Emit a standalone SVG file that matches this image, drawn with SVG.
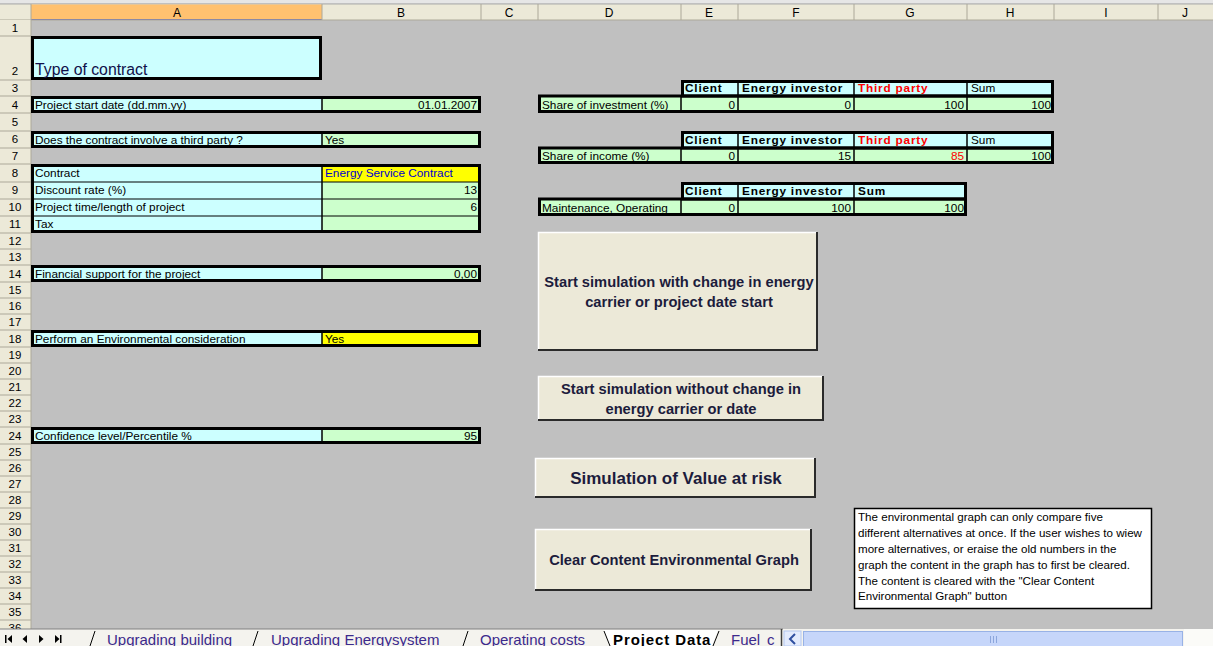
<svg xmlns="http://www.w3.org/2000/svg" width="1213" height="646" viewBox="0 0 1213 646">
  <style>
    .t { font-family: "Liberation Sans", Arial, sans-serif; font-size: 11.8px; fill: #000; }
    .b { font-weight: bold; letter-spacing: 0.8px; }
    .r { text-anchor: end; }
    .red { fill: #FF0000; }
    .blue { fill: #0000CC; }
    .hd { font-family: "Liberation Sans", Arial, sans-serif; font-size: 12px; fill: #000; text-anchor: middle; }
    .rn { font-family: "Liberation Sans", Arial, sans-serif; font-size: 11.5px; fill: #000; text-anchor: middle; }
    .cy { fill: #CCFFFF; }
    .gr { fill: #CCFFCC; }
    .ye { fill: #FFFF00; }
    .box { fill: none; stroke: #000; stroke-width: 3; }
    .thin { stroke: #000; stroke-width: 1.5; }
    .grid { stroke: #ACA899; stroke-width: 1; }
    .btn { fill: #ECE9D8; }
    .hi { fill: none; stroke: #FFFFFF; stroke-width: 1.5; }
    .sh { fill: none; stroke: #2A2A2A; stroke-width: 2; }
    .bt { font-family: "Liberation Sans", Arial, sans-serif; font-weight: bold; font-size: 14.7px; fill: #1C1C3C; text-anchor: middle; }
    .bt-lg { font-size: 17px; }
    .note { font-family: "Liberation Sans", Arial, sans-serif; font-size: 11.6px; fill: #000; }
    .tab { font-family: "Liberation Sans", Arial, sans-serif; font-size: 15px; fill: #3C2A8C; }
  </style>

  <!-- sheet background -->
  <rect x="0" y="0" width="1213" height="646" fill="#C0C0C0"/>
  <rect x="0" y="0" width="1213" height="4" fill="#E6E6E6"/>
  <line x1="0" y1="4" x2="1213" y2="4" stroke="#9A9A9A" stroke-width="1"/>

  <!-- column headers -->
  <g id="column-headers">
    <rect x="0" y="4.5" width="1213" height="15.5" fill="#ECE9D8"/>
    <rect x="31" y="4.5" width="291" height="15.5" fill="#FFC170"/>
    <line x1="31" y1="19.5" x2="322" y2="19.5" stroke="#6A6AB0" stroke-width="1"/>
    <line x1="0" y1="20" x2="1213" y2="20" class="grid"/>
    <g class="grid">
      <line x1="31" y1="4" x2="31" y2="20"/>
      <line x1="322" y1="4" x2="322" y2="20"/>
      <line x1="481" y1="4" x2="481" y2="20"/>
      <line x1="538" y1="4" x2="538" y2="20"/>
      <line x1="681" y1="4" x2="681" y2="20"/>
      <line x1="738" y1="4" x2="738" y2="20"/>
      <line x1="854" y1="4" x2="854" y2="20"/>
      <line x1="967" y1="4" x2="967" y2="20"/>
      <line x1="1054" y1="4" x2="1054" y2="20"/>
      <line x1="1158" y1="4" x2="1158" y2="20"/>
    </g>
    <text class="hd" x="177" y="17">A</text>
    <text class="hd" x="401" y="17">B</text>
    <text class="hd" x="509" y="17">C</text>
    <text class="hd" x="609" y="17">D</text>
    <text class="hd" x="709" y="17">E</text>
    <text class="hd" x="796" y="17">F</text>
    <text class="hd" x="910" y="17">G</text>
    <text class="hd" x="1010" y="17">H</text>
    <text class="hd" x="1106" y="17">I</text>
    <text class="hd" x="1185" y="17">J</text>
  </g>

  <!-- row headers -->
  <g id="row-headers">
    <rect x="0" y="20" width="31" height="609" fill="#ECE9D8"/>
    <line x1="31" y1="20" x2="31" y2="629" class="grid"/>
    <g class="grid">
      <line x1="0" y1="36" x2="31" y2="36"/><line x1="0" y1="80" x2="31" y2="80"/>
      <line x1="0" y1="96" x2="31" y2="96"/><line x1="0" y1="113" x2="31" y2="113"/>
      <line x1="0" y1="131" x2="31" y2="131"/><line x1="0" y1="148" x2="31" y2="148"/>
      <line x1="0" y1="164" x2="31" y2="164"/><line x1="0" y1="182" x2="31" y2="182"/>
      <line x1="0" y1="199" x2="31" y2="199"/><line x1="0" y1="216" x2="31" y2="216"/>
      <line x1="0" y1="233" x2="31" y2="233"/><line x1="0" y1="249" x2="31" y2="249"/>
      <line x1="0" y1="265" x2="31" y2="265"/><line x1="0" y1="282" x2="31" y2="282"/>
      <line x1="0" y1="298" x2="31" y2="298"/><line x1="0" y1="314" x2="31" y2="314"/>
      <line x1="0" y1="330" x2="31" y2="330"/><line x1="0" y1="347" x2="31" y2="347"/>
      <line x1="0" y1="363" x2="31" y2="363"/><line x1="0" y1="379" x2="31" y2="379"/>
      <line x1="0" y1="395" x2="31" y2="395"/><line x1="0" y1="411" x2="31" y2="411"/>
      <line x1="0" y1="427" x2="31" y2="427"/><line x1="0" y1="444" x2="31" y2="444"/>
      <line x1="0" y1="460" x2="31" y2="460"/><line x1="0" y1="476" x2="31" y2="476"/>
      <line x1="0" y1="492" x2="31" y2="492"/><line x1="0" y1="508" x2="31" y2="508"/>
      <line x1="0" y1="524" x2="31" y2="524"/><line x1="0" y1="540" x2="31" y2="540"/>
      <line x1="0" y1="556" x2="31" y2="556"/><line x1="0" y1="572" x2="31" y2="572"/>
      <line x1="0" y1="588" x2="31" y2="588"/><line x1="0" y1="604" x2="31" y2="604"/>
      <line x1="0" y1="620" x2="31" y2="620"/>
    </g>
    <text class="rn" x="15" y="32">1</text>
    <text class="rn" x="15" y="75">2</text>
    <text class="rn" x="15" y="92">3</text>
    <text class="rn" x="15" y="109">4</text>
    <text class="rn" x="15" y="126">5</text>
    <text class="rn" x="15" y="143">6</text>
    <text class="rn" x="15" y="160">7</text>
    <text class="rn" x="15" y="177">8</text>
    <text class="rn" x="15" y="194">9</text>
    <text class="rn" x="15" y="211">10</text>
    <text class="rn" x="15" y="228">11</text>
    <text class="rn" x="15" y="245">12</text>
    <text class="rn" x="15" y="261">13</text>
    <text class="rn" x="15" y="278">14</text>
    <text class="rn" x="15" y="294">15</text>
    <text class="rn" x="15" y="310">16</text>
    <text class="rn" x="15" y="326">17</text>
    <text class="rn" x="15" y="343">18</text>
    <text class="rn" x="15" y="359">19</text>
    <text class="rn" x="15" y="375">20</text>
    <text class="rn" x="15" y="391">21</text>
    <text class="rn" x="15" y="407">22</text>
    <text class="rn" x="15" y="423">23</text>
    <text class="rn" x="15" y="440">24</text>
    <text class="rn" x="15" y="456">25</text>
    <text class="rn" x="15" y="472">26</text>
    <text class="rn" x="15" y="488">27</text>
    <text class="rn" x="15" y="504">28</text>
    <text class="rn" x="15" y="520">29</text>
    <text class="rn" x="15" y="536">30</text>
    <text class="rn" x="15" y="552">31</text>
    <text class="rn" x="15" y="568">32</text>
    <text class="rn" x="15" y="584">33</text>
    <text class="rn" x="15" y="600">34</text>
    <text class="rn" x="15" y="616">35</text>
    <text class="rn" x="15" y="632">36</text>
  </g>

  <!-- title cell -->
  <g id="type-of-contract">
    <rect x="31" y="36" width="291" height="44" class="cy"/>
    <rect x="32.5" y="37.5" width="288" height="41" class="box"/>
    <text x="35" y="75" font-family="Liberation Sans, Arial, sans-serif" font-size="15.8" fill="#10104A">Type of contract</text>
  </g>

  <!-- input rows, columns A/B -->
  <g id="start-date">
    <rect x="31" y="96" width="291" height="17" class="cy"/>
    <rect x="322" y="96" width="159" height="17" class="gr"/>
    <line x1="322" y1="96" x2="322" y2="113" class="thin"/>
    <rect x="32.5" y="97.5" width="447" height="14" class="box"/>
    <text class="t" x="35" y="109">Project start date (dd.mm.yy)</text>
    <text class="t r" x="477" y="109">01.01.2007</text>
  </g>

  <g id="third-party">
    <rect x="31" y="131" width="291" height="17" class="cy"/>
    <rect x="322" y="131" width="159" height="17" class="gr"/>
    <line x1="322" y1="131" x2="322" y2="148" class="thin"/>
    <rect x="32.5" y="132.5" width="447" height="14" class="box"/>
    <text class="t" x="35" y="144">Does the contract involve a third party ?</text>
    <text class="t" x="325" y="144">Yes</text>
  </g>

  <g id="contract-block">
    <rect x="31" y="164" width="291" height="69" class="cy"/>
    <rect x="322" y="164" width="159" height="18" class="ye"/>
    <rect x="322" y="182" width="159" height="51" class="gr"/>
    <line x1="322" y1="164" x2="322" y2="233" class="thin"/>
    <line x1="31" y1="182" x2="481" y2="182" stroke="#000" stroke-width="1"/>
    <line x1="31" y1="199" x2="481" y2="199" stroke="#000" stroke-width="1"/>
    <line x1="31" y1="216" x2="481" y2="216" stroke="#000" stroke-width="1"/>
    <rect x="32.5" y="165.5" width="447" height="66" class="box"/>
    <text class="t" x="35" y="177">Contract</text>
    <text class="t blue" x="325" y="177">Energy Service Contract</text>
    <text class="t" x="35" y="194">Discount rate (%)</text>
    <text class="t r" x="477" y="194">13</text>
    <text class="t" x="35" y="211">Project time/length of project</text>
    <text class="t r" x="477" y="211">6</text>
    <text class="t" x="35" y="228">Tax</text>
  </g>

  <g id="financial-support">
    <rect x="31" y="265" width="291" height="17" class="cy"/>
    <rect x="322" y="265" width="159" height="17" class="gr"/>
    <line x1="322" y1="265" x2="322" y2="282" class="thin"/>
    <rect x="32.5" y="266.5" width="447" height="14" class="box"/>
    <text class="t" x="35" y="278">Financial support for the project</text>
    <text class="t r" x="477" y="278">0,00</text>
  </g>

  <g id="environmental">
    <rect x="31" y="330" width="291" height="17" class="cy"/>
    <rect x="322" y="330" width="159" height="17" class="ye"/>
    <line x1="322" y1="330" x2="322" y2="347" class="thin"/>
    <rect x="32.5" y="331.5" width="447" height="14" class="box"/>
    <text class="t" x="35" y="343">Perform an Environmental consideration</text>
    <text class="t" x="325" y="343">Yes</text>
  </g>

  <g id="confidence">
    <rect x="31" y="427" width="291" height="17" class="cy"/>
    <rect x="322" y="427" width="159" height="17" class="gr"/>
    <line x1="322" y1="427" x2="322" y2="444" class="thin"/>
    <rect x="32.5" y="428.5" width="447" height="14" class="box"/>
    <text class="t" x="35" y="440">Confidence level/Percentile %</text>
    <text class="t r" x="477" y="440">95</text>
  </g>

  <!-- share of investment -->
  <g id="share-investment">
    <rect x="681" y="80" width="373" height="16" class="cy"/>
    <rect x="538" y="96" width="516" height="17" class="gr"/>
    <g class="thin">
      <line x1="738" y1="80" x2="738" y2="113"/>
      <line x1="854" y1="80" x2="854" y2="113"/>
      <line x1="967" y1="80" x2="967" y2="113"/>
      <line x1="681" y1="96" x2="681" y2="113"/>
    </g>
    <rect x="682.5" y="81.5" width="370" height="14.5" class="box"/>
    <rect x="539.5" y="96" width="513" height="15.5" class="box"/>
    <text class="t b" x="685" y="92">Client</text>
    <text class="t b" x="742" y="92">Energy investor</text>
    <text class="t b red" x="858" y="92">Third party</text>
    <text class="t" x="971" y="92">Sum</text>
    <text class="t" x="542" y="109">Share of investment (%)</text>
    <text class="t r" x="735" y="109">0</text>
    <text class="t r" x="851" y="109">0</text>
    <text class="t r" x="964" y="109">100</text>
    <text class="t r" x="1051" y="109">100</text>
  </g>

  <!-- share of income -->
  <g id="share-income">
    <rect x="681" y="131" width="373" height="17" class="cy"/>
    <rect x="538" y="148" width="516" height="16" class="gr"/>
    <g class="thin">
      <line x1="738" y1="131" x2="738" y2="164"/>
      <line x1="854" y1="131" x2="854" y2="164"/>
      <line x1="967" y1="131" x2="967" y2="164"/>
      <line x1="681" y1="148" x2="681" y2="164"/>
    </g>
    <rect x="682.5" y="132.5" width="370" height="15.5" class="box"/>
    <rect x="539.5" y="148" width="513" height="14.5" class="box"/>
    <text class="t b" x="685" y="144">Client</text>
    <text class="t b" x="742" y="144">Energy investor</text>
    <text class="t b red" x="858" y="144">Third party</text>
    <text class="t" x="971" y="144">Sum</text>
    <text class="t" x="542" y="160">Share of income (%)</text>
    <text class="t r" x="735" y="160">0</text>
    <text class="t r" x="851" y="160">15</text>
    <text class="t r red" x="964" y="160">85</text>
    <text class="t r" x="1051" y="160">100</text>
  </g>

  <!-- maintenance / operating -->
  <g id="maintenance">
    <rect x="681" y="182" width="286" height="17" class="cy"/>
    <rect x="538" y="199" width="429" height="17" class="gr"/>
    <g class="thin">
      <line x1="738" y1="182" x2="738" y2="216"/>
      <line x1="854" y1="182" x2="854" y2="216"/>
      <line x1="681" y1="199" x2="681" y2="216"/>
    </g>
    <rect x="682.5" y="183.5" width="283" height="15.5" class="box"/>
    <rect x="539.5" y="199" width="426" height="15.5" class="box"/>
    <text class="t b" x="685" y="195">Client</text>
    <text class="t b" x="742" y="195">Energy investor</text>
    <text class="t b" x="858" y="195">Sum</text>
    <text class="t" x="542" y="212">Maintenance, Operating</text>
    <text class="t r" x="735" y="212">0</text>
    <text class="t r" x="851" y="212">100</text>
    <text class="t r" x="964" y="212">100</text>
  </g>

  <!-- macro buttons -->
  <g id="btn-sim-change">
    <rect x="538" y="232" width="280" height="119" class="btn"/>
    <polyline points="538.5,350 538.5,232.5 817,232.5" class="hi"/>
    <polyline points="538,350 817,350 817,232" class="sh"/>
    <text class="bt" x="679" y="287">Start simulation with change in energy</text>
    <text class="bt" x="679" y="307">carrier or project date start</text>
  </g>

  <g id="btn-sim-nochange">
    <rect x="538" y="376" width="286" height="45" class="btn"/>
    <polyline points="538.5,420 538.5,376.5 823,376.5" class="hi"/>
    <polyline points="538,420 823,420 823,376" class="sh"/>
    <text class="bt" x="681" y="394">Start simulation without change in</text>
    <text class="bt" x="681" y="414">energy carrier or date</text>
  </g>

  <g id="btn-var">
    <rect x="535" y="458" width="281" height="40" class="btn"/>
    <polyline points="535.5,497 535.5,458.5 815,458.5" class="hi"/>
    <polyline points="535,497 815,497 815,458" class="sh"/>
    <text class="bt bt-lg" x="676" y="484">Simulation of Value at risk</text>
  </g>

  <g id="btn-clear">
    <rect x="535" y="529" width="277" height="62" class="btn"/>
    <polyline points="535.5,590 535.5,529.5 811,529.5" class="hi"/>
    <polyline points="535,590 811,590 811,529" class="sh"/>
    <text class="bt" x="674" y="565">Clear Content Environmental Graph</text>
  </g>

  <!-- note box -->
  <g id="note">
    <rect x="854.5" y="508.5" width="297" height="100" fill="#FFFFFF" stroke="#000" stroke-width="1.5"/>
    <text class="note" x="858" y="521">The environmental graph can only compare five</text>
    <text class="note" x="858" y="537">different alternatives at once. If the user wishes to wiew</text>
    <text class="note" x="858" y="553">more alternatives, or eraise the old numbers in the</text>
    <text class="note" x="858" y="569">graph the content in the graph has to first be cleared.</text>
    <text class="note" x="858" y="585">The content is cleared with the &quot;Clear Content</text>
    <text class="note" x="858" y="600">Environmental Graph&quot; button</text>
  </g>

  <!-- sheet tabs and horizontal scrollbar -->
  <g id="tab-bar">
    <rect x="0" y="629" width="1213" height="17" fill="#F4F3EE"/>
    <line x1="0" y1="629" x2="783" y2="629" stroke="#808080" stroke-width="1"/>
    <g fill="#000">
      <rect x="5" y="635" width="1.5" height="8"/>
      <polygon points="12,635 12,643 7.5,639"/>
      <polygon points="27,635 27,643 22.5,639"/>
      <polygon points="39,635 39,643 43.5,639"/>
      <polygon points="55,635 55,643 59.5,639"/>
      <rect x="60" y="635" width="1.5" height="8"/>
    </g>
    <polygon points="604,630 718,630 712,646 610,646" fill="#FFFFFF"/>
    <g stroke="#000" stroke-width="1" fill="none">
      <line x1="95" y1="631" x2="90" y2="646"/>
      <line x1="258" y1="631" x2="253" y2="646"/>
      <line x1="468" y1="631" x2="463" y2="646"/>
      <line x1="604" y1="631" x2="610" y2="646"/>
      <line x1="719" y1="631" x2="713" y2="646"/>
    </g>
    <text class="tab" x="107" y="645">Upgrading building</text>
    <text class="tab" x="271" y="645">Upgrading Energysystem</text>
    <text class="tab" x="480" y="645">Operating costs</text>
    <text x="613" y="645" font-family="Liberation Sans, Arial, sans-serif" font-size="15" font-weight="bold" letter-spacing="0.9" fill="#000">Project Data</text>
    <text class="tab" x="731" y="645">Fuel</text>
    <text class="tab" x="767" y="645">c</text>
    <line x1="781.5" y1="629" x2="781.5" y2="646" stroke="#404040" stroke-width="1.5"/>
    <rect x="784" y="631" width="17" height="15" fill="#E3EBFD" stroke="#B4C8F0" stroke-width="1"/>
    <polyline points="795,634 790,639 795,644" fill="none" stroke="#3050A0" stroke-width="2"/>
    <rect x="803.5" y="631.5" width="379" height="15" fill="#C6D6FA" stroke="#98B2E6" stroke-width="1"/>
    <g stroke="#8CA6DC" stroke-width="1">
      <line x1="990.5" y1="636" x2="990.5" y2="643"/>
      <line x1="993.5" y1="636" x2="993.5" y2="643"/>
      <line x1="996.5" y1="636" x2="996.5" y2="643"/>
    </g>
    <rect x="1184" y="629" width="29" height="17" fill="#FBFBF8"/>
  </g>
</svg>
